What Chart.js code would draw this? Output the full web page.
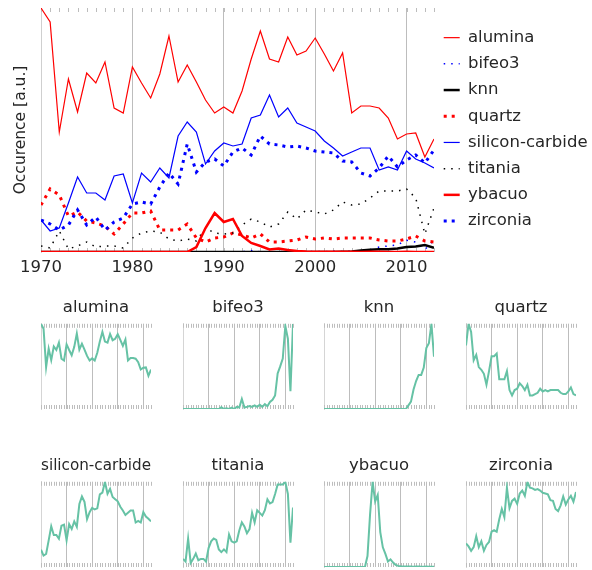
<!DOCTYPE html>
<html>
<head>
<meta charset="utf-8">
<script src="https://cdn.jsdelivr.net/npm/chart.js@4.4.1/dist/chart.umd.min.js"></script>
<style>
  body { margin: 0; background: #fff; }
  canvas { position: absolute; }
</style>
</head>
<body>
<canvas id="main" width="592" height="290" style="left:0px;top:0px"></canvas>
<div id="small"></div>
<script>
const years = [1970, 1971, 1972, 1973, 1974, 1975, 1976, 1977, 1978, 1979,
  1980, 1981, 1982, 1983, 1984, 1985, 1986, 1987, 1988, 1989,
  1990, 1991, 1992, 1993, 1994, 1995, 1996, 1997, 1998, 1999,
  2000, 2001, 2002, 2003, 2004, 2005, 2006, 2007, 2008, 2009,
  2010, 2011, 2012, 2013]
const decadeTicks = [1970, 1980, 1990, 2000, 2010]

const alumina = [244, 230, 120, 173, 140, 179, 169, 190, 144, 139,
  185, 169, 154, 178, 216, 170, 187, 170, 152, 139,
  145, 139, 161, 193, 221, 193, 190, 215, 197, 201,
  214, 198, 181, 199, 139, 146, 146, 144, 134, 113,
  118, 119, 95, 113]
const bifeo3 = [0, 0, 0, 0, 0, 0, 0, 0, 0, 0,
  0, 0, 0, 0, 0, 0.25, 0, 0.1, 0, 0.2,
  0, 0.3, 0.2, 1.4, 0.2, 0.3, 0.4, 0.3, 0.5, 0.3,
  0.6, 0.3, 0.7, 0.4, 1.0, 1.3, 1.9, 5.0, 6.0, 7.1,
  11.7, 9.9, 2.5, 12]
const knn = [0, 0, 0, 0, 0, 0, 0, 0, 0, 0,
  0, 0, 0, 0, 0, 0, 0, 0, 0, 0,
  0, 0, 0, 0, 0, 0, 0, 0, 0, 0,
  0, 0, 0, 0.3, 0.6, 1.6, 2.3, 2.8, 2.8, 3.4,
  5.0, 5.4, 7.0, 4.3]
const quartz = [47, 63, 57, 36, 40, 31, 29, 26, 18, 28,
  39, 39, 41, 22, 22, 22, 28, 14, 10, 14,
  15, 19, 17, 14, 18, 10, 10, 11, 12, 15,
  13, 14, 13, 14, 14, 14, 14, 12, 11, 11,
  13, 16, 11, 10]
const siliconCarbide = [32, 21, 24, 49, 75, 59, 59, 52, 76, 78,
  49, 79, 70, 84, 74, 116, 130, 120, 88, 101,
  109, 106, 108, 134, 137, 157, 135, 144, 129, 125,
  121, 111, 104, 96, 100, 104, 104, 82, 85, 82,
  101, 93, 89, 84]
const titania = [6, 4, 21, 3, 6, 10, 5, 6, 6, 4,
  14, 19, 21, 20, 13, 11, 13, 11, 24, 19,
  18, 19, 27, 33, 30, 25, 28, 40, 33, 42,
  40, 38, 42, 50, 47, 48, 54, 61, 61, 61,
  63, 54, 18, 44]
const ybacuo = [0, 0, 0, 0, 0, 0, 0, 0, 0, 0,
  0, 0, 0, 0, 0, 0, 0, 5, 24, 39,
  30, 33, 16, 9, 6, 2.5, 3.5, 2, 1, 0.5,
  0.3, 0.2, 0.2, 0.2, 0.2, 0.1, 0.2, 0.2, 0.1, 0.1,
  0.2, 0.1, 0.1, 0.1]
const zirconia = [32, 28, 22, 27, 42, 27, 35, 22, 30, 34,
  48, 50, 48, 65, 79, 68, 108, 80, 90, 93,
  86, 100, 104, 97, 116, 108, 107, 105, 106, 104,
  101, 100, 99, 91, 90, 79, 76, 84, 96, 85,
  92, 97, 89, 102]

const seriesNames = ['alumina', 'bifeo3', 'knn', 'quartz', 'silicon-carbide', 'titania', 'ybacuo', 'zirconia']
const seriesValues = [alumina, bifeo3, knn, quartz, siliconCarbide, titania, ybacuo, zirconia]

// line looks for the big chart, same order as seriesNames
const lineStyles = [
  { color: '#ff0000', width: 1.2, dash: [] },
  { color: '#0000ff', width: 1.5, dash: [1.5, 6] },
  { color: '#000000', width: 2.5, dash: [] },
  { color: '#ff0000', width: 3, dash: [3, 5] },
  { color: '#0000ff', width: 1.2, dash: [] },
  { color: '#000000', width: 1.5, dash: [1.5, 6] },
  { color: '#ff0000', width: 2.5, dash: [] },
  { color: '#0000ff', width: 3, dash: [3, 5] },
]

const textColor = '#262626'
const gridColor = '#bdbdbd'
const fontFamily = '"DejaVu Sans", sans-serif'

const toPoints = (vals) => years.map((yr, i) => ({ x: yr, y: vals[i] }))

// little year ticks pointing into the plot, top and bottom edge
const yearTicks = {
  id: 'yearTicks',
  beforeDatasetsDraw(chart) {
    const { ctx, chartArea, scales } = chart
    const xs = scales.x
    ctx.save()
    ctx.strokeStyle = gridColor
    ctx.lineWidth = 1
    ctx.beginPath()
    for (const yr of years) {
      const px = Math.round(xs.getPixelForValue(yr)) + 0.5
      ctx.moveTo(px, chartArea.top)
      ctx.lineTo(px, chartArea.top + 4)
      ctx.moveTo(px, chartArea.bottom)
      ctx.lineTo(px, chartArea.bottom - 4)
    }
    ctx.stroke()
    ctx.restore()
  }
}

const xScale = (showLabels) => ({
  type: 'linear',
  min: years[0],
  max: years[years.length - 1],
  afterBuildTicks: (s) => { s.ticks = decadeTicks.map(v => ({ value: v })) },
  afterFit: (s) => { s.height = showLabels ? 38 : 0 },
  border: { display: false },
  grid: { color: gridColor, lineWidth: 1, drawTicks: false },
  ticks: {
    display: showLabels,
    color: textColor,
    padding: 6,
    maxRotation: 0,
    autoSkip: false,
    font: { family: fontFamily, size: 16.5 },
    callback: (v) => String(v)
  }
})

// legend entries straight from the line styles, so dashes and widths show
const legendItems = (chart) => chart.data.datasets.map((ds, i) => ({
  text: ds.label,
  datasetIndex: i,
  fillStyle: lineStyles[i].color,
  strokeStyle: lineStyles[i].color,
  fontColor: textColor,
  lineWidth: lineStyles[i].width,
  lineDash: lineStyles[i].dash,
  lineCap: 'butt',
  pointStyle: 'line',
  hidden: false
}))

new Chart(document.getElementById('main'), {
  type: 'line',
  data: {
    datasets: seriesNames.map((name, i) => ({
      label: name,
      data: toPoints(seriesValues[i]),
      borderColor: lineStyles[i].color,
      backgroundColor: lineStyles[i].color,
      borderWidth: lineStyles[i].width,
      borderDash: lineStyles[i].dash,
      pointRadius: 0,
      tension: 0,
      order: seriesNames.length - 1 - i
    }))
  },
  options: {
    responsive: false,
    animation: false,
    devicePixelRatio: 1,
    layout: { padding: { left: 0, right: 2, top: 8, bottom: 0 } },
    scales: {
      x: xScale(true),
      y: {
        min: 0,
        max: 244,
        afterFit: (s) => { s.width = 41 },
        grid: { display: false },
        border: { display: true, color: '#cfcfcf' },
        ticks: { display: false },
        title: {
          display: true,
          text: 'Occurence [a.u.]',
          color: textColor,
          font: { family: fontFamily, size: 15.5 },
          padding: { top: 12, bottom: 0 }
        }
      }
    },
    plugins: {
      tooltip: { enabled: false },
      legend: {
        position: 'right',
        align: 'start',
        maxWidth: 156,
        title: { display: true, text: ' ', font: { size: 1 }, padding: { top: 10.5, bottom: 0 } },
        labels: {
          usePointStyle: true,
          pointStyleWidth: 16,
          padding: 9.7,
          color: textColor,
          font: { family: fontFamily, size: 16.5 },
          generateLabels: legendItems
        }
      }
    }
  },
  plugins: [yearTicks]
})

// small multiples, one per series, scaled from 0 to its own max
const panelLefts = [41, 183, 324, 466]
const panelTops = [296, 454]
const holder = document.getElementById('small')

seriesNames.forEach((name, i) => {
  const c = document.createElement('canvas')
  c.width = 114
  c.height = 115
  c.style.left = (panelLefts[i % 4] - 2) + 'px'
  c.style.top = panelTops[Math.floor(i / 4)] + 'px'
  holder.appendChild(c)

  new Chart(c, {
    type: 'line',
    data: {
      datasets: [{
        label: name,
        data: toPoints(seriesValues[i]),
        borderColor: '#66c2a5',
        borderWidth: 2,
        pointRadius: 0,
        tension: 0
      }]
    },
    options: {
      responsive: false,
      animation: false,
      devicePixelRatio: 1,
      layout: { padding: { left: 2, right: 2, top: 0, bottom: 2 } },
      scales: {
        x: xScale(false),
        y: {
          min: 0,
          max: Math.max(...seriesValues[i]),
          afterFit: (s) => { s.width = 0 },
          grid: { display: false },
          border: { display: true, color: '#d5d5d5' },
          ticks: { display: false }
        }
      },
      plugins: {
        tooltip: { enabled: false },
        legend: { display: false },
        title: {
          display: true,
          text: name,
          color: textColor,
          font: { family: fontFamily, size: 16.5, weight: 'normal' },
          padding: { top: 2, bottom: 6 }
        }
      }
    },
    plugins: [yearTicks]
  })
})
</script>
</body>
</html>
